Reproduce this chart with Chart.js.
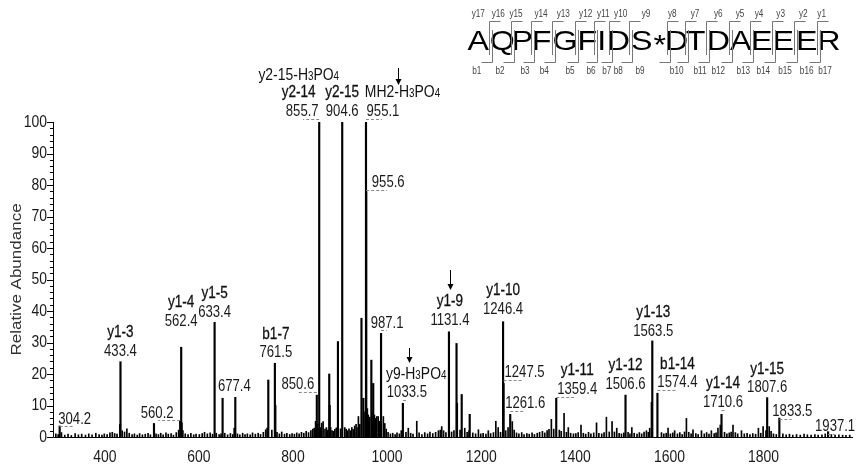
<!DOCTYPE html>
<html>
<head>
<meta charset="utf-8">
<script src="https://cdn.jsdelivr.net/npm/chart.js@4.4.1/dist/chart.umd.min.js"></script>
<style>
  html, body { margin: 0; background: #fff; }
  #wrap { position: relative; width: 858px; height: 473px; }
</style>
</head>
<body>
<div id="wrap"><canvas id="spectrum"></canvas></div>
<script>
// ---- spectrum data (m/z, relative abundance %) ----
const peakMz = [304.2, 432.5, 433.4, 504.6, 560.2, 562.4, 563.4, 633.4, 650.4, 677.4,
  747.5, 761.5, 762.5, 850.6, 855.7, 877.0, 878.0, 895.5, 904.6, 945.5,
  949.5, 955.1, 955.6, 966.5, 970.5, 987.1, 1033.5, 1131.4, 1147.5, 1148.5,
  1158.5, 1175.5, 1246.4, 1247.5, 1261.6, 1359.4, 1506.6, 1562.3, 1563.5, 1574.4,
  1710.6, 1807.6, 1833.5, 1937.1];
const peakAbund = [3.5, 4.0, 23.9, 4.3, 5.0, 28.5, 4.5, 36.4, 12.3, 12.6,
  18.1, 23.4, 10.0, 13.3, 100, 20.0, 10.0, 30.3, 100, 37.7,
  12.3, 100, 77.9, 24.4, 17.0, 32.9, 10.7, 33.4, 29.7, 10.7,
  13.5, 7.2, 36.6, 17.0, 7.2, 12.3, 13.3, 11.0, 30.5, 13.9,
  7.2, 12.5, 6.0, 1.7];

// small baseline peaks
const noiseMz = [
  296, 301, 308, 315, 322, 329, 337, 344, 351, 359, 366, 373, 381, 388, 394, 399,
  405, 411, 416, 421, 426, 437, 442, 447, 452, 458, 463, 469, 474, 480, 486, 492, 497,
  509, 514, 519, 524, 530, 535, 541, 546, 552, 557, 566, 571, 577, 583, 589, 594,
  601, 607, 612, 618, 624, 629, 637, 643, 647, 655, 661, 667, 672, 675, 682, 687, 693, 698,
  703, 709, 714, 720, 726, 731, 737, 742, 745, 755, 766, 771, 776, 782, 787, 793, 798,
  803, 808, 813, 818, 823, 828, 833, 838, 842, 845, 848, 853, 858, 861, 864, 868, 871, 874, 880, 883, 886, 889, 892, 901, 910, 913, 916,
  919, 922, 925, 928, 931, 934, 936, 939, 942, 953, 958, 960, 963, 969, 973, 975, 978, 981, 984, 986, 992, 995, 998,
  1002, 1007, 1012, 1017, 1021, 1026, 1030, 1040, 1045, 1050, 1055, 1063, 1068, 1074, 1080, 1086, 1091, 1097,
  1103, 1109, 1113, 1116, 1120, 1125, 1137, 1142, 1155, 1165, 1170, 1174, 1182, 1188, 1194, 1199,
  1204, 1210, 1215, 1220, 1226, 1231, 1236, 1241, 1252, 1257, 1266, 1270, 1275, 1280, 1286, 1291, 1297,
  1302, 1308, 1313, 1319, 1324, 1330, 1335, 1340, 1344, 1349, 1354, 1366, 1370, 1376, 1381, 1385, 1390, 1396,
  1401, 1406, 1412, 1417, 1422, 1428, 1433, 1439, 1445, 1450, 1456, 1461, 1466, 1472, 1478, 1483, 1488, 1493, 1498,
  1503, 1512, 1516, 1520, 1525, 1531, 1536, 1541, 1546, 1551, 1555, 1558, 1583, 1588, 1593, 1597, 1602,
  1607, 1611, 1617, 1622, 1627, 1632, 1636, 1641, 1646, 1650, 1656, 1661, 1668, 1674, 1679, 1684, 1689, 1695, 1699,
  1703, 1708, 1717, 1722, 1727, 1731, 1735, 1740, 1745, 1753, 1759, 1765, 1771, 1777, 1783, 1789, 1794, 1799,
  1805, 1812, 1816, 1821, 1827, 1841, 1848, 1855, 1862, 1870, 1878, 1886, 1893, 1901, 1909, 1916, 1924, 1931, 1944, 1952, 1960, 1968, 1975, 1983];
const noiseAbund = [
  1.0, 0.8, 1.4, 0.6, 0.9, 0.5, 1.1, 0.7, 0.9, 0.6, 1.0, 0.7, 1.2, 0.8, 0.6, 1.0,
  0.8, 1.3, 1.5, 1.1, 0.9, 2.0, 1.6, 2.6, 1.2, 0.8, 1.0, 0.6, 1.1, 0.7, 0.9, 1.2, 0.7,
  1.0, 0.8, 1.2, 0.7, 1.3, 0.9, 1.1, 0.6, 1.4, 2.2, 2.0, 1.0, 0.8, 1.2, 0.7, 0.9,
  0.8, 1.1, 1.5, 1.0, 1.3, 0.9, 1.2, 0.8, 1.0, 1.2, 0.7, 1.1, 0.8, 2.8, 1.0, 0.7, 1.2, 0.8,
  1.0, 0.7, 1.3, 0.9, 1.2, 0.8, 1.5, 2.3, 2.8, 2.2, 1.5, 1.0, 1.6, 0.9, 1.2, 0.8, 1.1,
  0.9, 1.3, 1.0, 1.5, 1.2, 1.8, 1.4, 2.0, 2.5, 2.8, 5.0, 4.0, 3.0, 4.4, 4.9, 2.5, 3.0, 2.2, 3.0, 2.0, 1.8, 2.4, 2.9, 2.6, 3.0, 2.5, 2.0,
  2.6, 2.0, 3.0, 2.4, 3.5, 4.0, 3.0, 6.5, 4.0, 8.0, 9.0, 7.0, 6.3, 8.0, 7.0, 5.9, 6.5, 6.5, 5.0, 4.0, 6.5, 4.3, 2.5,
  1.5, 1.0, 1.2, 0.8, 1.3, 1.0, 2.0, 1.5, 2.8, 1.2, 0.9, 5.0, 1.3, 0.8, 1.4, 1.0, 1.6, 1.1,
  1.5, 2.0, 2.2, 3.3, 2.0, 1.4, 1.6, 2.0, 2.2, 2.8, 1.5, 2.0, 1.3, 1.0, 2.3, 1.0,
  1.2, 0.9, 2.0, 1.1, 1.4, 5.0, 3.0, 1.5, 2.0, 3.0, 4.9, 2.2, 1.3, 1.0, 1.4, 0.8, 1.1,
  0.9, 1.3, 0.8, 1.2, 1.5, 1.8, 1.3, 2.0, 2.4, 5.6, 2.5, 2.2, 1.8, 7.5, 1.5, 3.0, 1.2, 1.0,
  1.1, 1.4, 3.8, 1.2, 0.9, 1.5, 1.0, 1.3, 4.5, 1.2, 1.0, 1.4, 6.3, 1.6, 4.9, 1.6, 2.8, 1.2, 1.0,
  1.3, 1.5, 1.0, 3.0, 1.2, 0.9, 1.4, 1.0, 1.6, 2.0, 1.5, 2.8, 1.4, 1.0, 1.2, 2.8, 1.0,
  1.3, 2.0, 1.0, 1.4, 0.8, 1.6, 5.9, 1.5, 1.0, 2.3, 1.1, 0.8, 2.0, 1.0, 1.4, 0.9, 2.0, 1.1, 1.3,
  2.8, 3.8, 1.5, 1.0, 1.3, 1.6, 3.8, 1.4, 1.0, 2.0, 1.0, 1.2, 0.8, 1.1, 0.9, 2.8, 1.2, 3.3,
  2.0, 3.3, 1.8, 1.0, 0.8, 1.0, 0.7, 0.9, 0.6, 0.8, 0.6, 0.9, 0.7, 0.6, 0.8, 0.6, 0.7, 1.0, 0.8, 0.6, 0.7, 0.6, 0.5, 0.6];

const xTickLabels = [400, 600, 800, 1000, 1200, 1400, 1600, 1800];
const yTickLabels = [0, 10, 20, 30, 40, 50, 60, 70, 80, 90, 100];

// annotated peaks; {n} = small subscript-like digit
const labelMz = [304.2, 433.4, 560.2, 562.4, 633.4, 677.4, 761.5, 850.6, 855.7, 904.6,
  955.1, 955.6, 987.1, 1033.5, 1131.4, 1246.4, 1247.5, 1261.6, 1359.4, 1506.6,
  1563.5, 1574.4, 1710.6, 1807.6, 1833.5, 1937.1];
const labelIon = ['', 'y1-3', '', 'y1-4', 'y1-5', '', 'b1-7', '', 'y2-14', 'y2-15',
  'MH2-H{3}PO{4}', '', '', 'y9-H{3}PO{4}', 'y1-9', 'y1-10', '', '', 'y1-11', 'y1-12',
  'y1-13', 'b1-14', 'y1-14', 'y1-15', '', ''];
const extraIon = { 855.7: 'y2-15-H{3}PO{4}' };
const arrowMz = [955.1, 1033.5, 1131.4];

const sequence = ['A', 'Q', 'P', 'F', 'G', 'F', 'I', 'D', 'S', '*', 'D', 'T', 'D', 'A', 'E', 'E', 'E', 'R'];
const yIons = ['y17', 'y16', 'y15', 'y14', 'y13', 'y12', 'y11', 'y10', 'y9', 'y8', 'y7', 'y6', 'y5', 'y4', 'y3', 'y2', 'y1'];
const bIons = ['b1', 'b2', 'b3', 'b4', 'b5', 'b6', 'b7', 'b8', 'b9', 'b10', 'b11', 'b12', 'b13', 'b14', 'b15', 'b16', 'b17'];

// ---- layout (pixels) ----
const labelDx = [15, 0, -23, 0, 0, -1, 1, -19, -17, 0, 17, 22, 6, 4, 1, 0, 21, 15, 21, 0, 1, 20, 1.5, 0, 13, 7];
const labelDy = [-8, -11.7, -9.5, -27.3, -11.6, -12.3, -11.6, -11.7, -12, -12, -12, -10, -11.6, -11.6, -12.4, -13.4, -11.8, -11.7, -10, -11.7, -11, -11.6, -13.3, -11, -8, -6.6];
const labelDash = [1, 0, 1, 0, 0, 0, 0, 1, 1, 0, 1, 1, 1, 1, 0, 0, 1, 1, 1, 0, 0, 1, 1, 0, 1, 1];
const ionDx = { 855.7: -3.5, 955.1: 19.5, 1033.5: 9.3 };
const arrowGeom = { 955.1: [32, -54, -37], 1033.5: [6.4, -55.3, -40.3], 1131.4: [1, -61.7, -41.7] };
const seqX = [478.3, 502.3, 522.3, 541.7, 565, 587.3, 601.7, 618.3, 641.7, 659.7, 676.7, 695.7, 718.3, 740.7, 761.7, 783.3, 806.7, 829];
const yIonX = [478.3, 498.3, 516, 541, 563.3, 585.7, 603.3, 620.7, 646, 672.3, 695, 718.3, 740, 759, 780.7, 803.3, 821.7];
const bIonX = [476.7, 500, 525, 544.3, 570, 591, 606.7, 618.3, 640, 676.7, 700, 718.3, 743.3, 763.3, 785, 806.7, 825];

const FAM = '"Liberation Sans", Arial, sans-serif';
const SQ = 0.82; // figure text is horizontally condensed

function squeezed(ctx, s, x, y, font, align, color) {
  ctx.save();
  ctx.font = font;
  ctx.fillStyle = color;
  ctx.textAlign = align;
  ctx.textBaseline = 'middle';
  ctx.translate(x, y);
  ctx.scale(SQ, 1);
  ctx.fillText(s, 0, 0);
  ctx.restore();
}

// heavy = stroke the glyphs lightly for the semi-bold ion names
function richText(ctx, spec, cx, cy, size, color, heavy) {
  const segs = [];
  spec.split(/(\{[^}]*\})/).forEach(p => {
    if (!p) return;
    if (p[0] === '{') segs.push({ t: p.slice(1, -1), small: true });
    else segs.push({ t: p, small: false });
  });
  const big = size + 'px ' + FAM;
  const small = Math.round(size * 0.68) + 'px ' + FAM;
  ctx.save();
  ctx.translate(cx, cy);
  ctx.scale(SQ, 1);
  let w = 0;
  segs.forEach(s => { ctx.font = s.small ? small : big; s.w = ctx.measureText(s.t).width; w += s.w; });
  let x = -w / 2;
  ctx.textAlign = 'left';
  ctx.textBaseline = 'alphabetic';
  ctx.fillStyle = color;
  ctx.strokeStyle = color;
  ctx.lineWidth = heavy || 0;
  segs.forEach(s => {
    ctx.font = s.small ? small : big;
    ctx.fillText(s.t, x, size * 0.36);
    if (heavy) ctx.strokeText(s.t, x, size * 0.36);
    x += s.w;
  });
  ctx.restore();
}

function abundOf(mz) {
  const i = peakMz.indexOf(mz);
  return i >= 0 ? peakAbund[i] : 0;
}

const spectrumDecor = {
  id: 'spectrumDecor',
  afterDraw(chart) {
    const { ctx, chartArea: area } = chart;
    const xs = chart.scales.x, ys = chart.scales.y;
    ctx.save();

    // axis lines
    ctx.strokeStyle = '#000';
    ctx.lineWidth = 1;
    ctx.beginPath();
    ctx.moveTo(area.left + 0.5, area.top);
    ctx.lineTo(area.left + 0.5, area.bottom + 0.5);
    ctx.lineTo(area.right, area.bottom + 0.5);
    ctx.stroke();

    // x ticks
    ctx.beginPath();
    xs.ticks.forEach(t => {
      if (t.value % 20 !== 0) return;
      const px = Math.round(xs.getPixelForValue(t.value)) + 0.5;
      const len = t.value % 100 === 0 ? 6 : 3.5;
      ctx.moveTo(px, area.bottom - 1);
      ctx.lineTo(px, area.bottom + len);
    });
    ys.ticks.forEach(t => {
      const py = Math.round(ys.getPixelForValue(t.value)) + 0.5;
      const len = t.value % 10 === 0 ? 6 : 3;
      ctx.moveTo(area.left - len, py);
      ctx.lineTo(area.left, py);
    });
    ctx.stroke();

    xTickLabels.forEach(v => {
      squeezed(ctx, String(v), xs.getPixelForValue(v), area.bottom + 20, '17px ' + FAM, 'center', '#1a1a1a');
    });
    yTickLabels.forEach(v => {
      squeezed(ctx, String(v), area.left - 6, ys.getPixelForValue(v), '17px ' + FAM, 'right', '#1a1a1a');
    });

    // y axis title
    ctx.save();
    ctx.translate(17, (area.top + area.bottom) / 2);
    ctx.rotate(-Math.PI / 2);
    ctx.scale(1, SQ);
    ctx.font = '17px ' + FAM;
    ctx.fillStyle = '#333';
    ctx.textAlign = 'center';
    ctx.textBaseline = 'middle';
    ctx.fillText('Relative Abundance', 0, 0);
    ctx.restore();

    // peak annotations
    labelMz.forEach((mz, i) => {
      const px = xs.getPixelForValue(mz);
      const py = ys.getPixelForValue(abundOf(mz));
      const cx = px + labelDx[i];
      const cy = py + labelDy[i];
      richText(ctx, mz.toFixed(1), cx, cy, 16, '#1a1a1a', 0);
      if (labelDash[i]) {
        let d = labelDx[i] * 0.95;
        if (Math.abs(d) < 5) d = 5;
        ctx.save();
        ctx.strokeStyle = '#8a8a8a';
        ctx.lineWidth = 1;
        ctx.setLineDash([3, 2]);
        ctx.beginPath();
        ctx.moveTo(px, Math.round(cy + 8.5) + 0.5);
        ctx.lineTo(px + d, Math.round(cy + 8.5) + 0.5);
        ctx.stroke();
        ctx.restore();
      }
      const ion = labelIon[i];
      const ix = cx + (ionDx[mz] || 0);
      if (ion) {
        const sub = ion.indexOf('{') >= 0;
        richText(ctx, ion, ix, cy - 19, sub ? 17 : 16.5, '#111', sub ? 0 : 0.3);
      }
      if (extraIon[mz]) {
        richText(ctx, extraIon[mz], ix, cy - 36, 17, '#111', 0);
      }
    });

    // arrows marking the phospho-loss ions
    arrowMz.forEach(mz => {
      const g = arrowGeom[mz];
      const ax = Math.round(xs.getPixelForValue(mz) + g[0]) + 0.5;
      const top = ys.getPixelForValue(abundOf(mz));
      const y1 = top + g[1], y2 = top + g[2];
      ctx.strokeStyle = '#000';
      ctx.fillStyle = '#000';
      ctx.lineWidth = 1;
      ctx.beginPath();
      ctx.moveTo(ax, y1);
      ctx.lineTo(ax, y2 - 4);
      ctx.stroke();
      ctx.beginPath();
      ctx.moveTo(ax - 3, y2 - 6);
      ctx.lineTo(ax + 3, y2 - 6);
      ctx.lineTo(ax, y2);
      ctx.closePath();
      ctx.fill();
    });

    // peptide sequence with fragment brackets
    sequence.forEach((ch, i) => {
      ctx.save();
      ctx.translate(seqX[i], 50);
      ctx.scale(1.15, 1);
      ctx.font = '28px ' + FAM;
      ctx.fillStyle = '#000';
      ctx.textAlign = 'center';
      ctx.textBaseline = 'alphabetic';
      ctx.fillText(ch, 0, ch === '*' ? 4 : 0);
      ctx.restore();
    });
    yIons.forEach((s, i) => squeezed(ctx, s, yIonX[i], 14, '10px ' + FAM, 'center', '#444'));
    bIons.forEach((s, i) => squeezed(ctx, s, bIonX[i], 71, '10px ' + FAM, 'center', '#444'));

    ctx.strokeStyle = '#777';
    ctx.lineWidth = 1;
    ctx.beginPath();
    for (let i = 0; i < sequence.length - 1; i++) {
      if (sequence[i + 1] === '*') continue;
      const g = Math.round((seqX[i] + seqX[i + 1]) / 2) + 0.5;
      ctx.moveTo(g + 10, 21.5);
      ctx.lineTo(g - 1, 21.5);
      ctx.lineTo(g - 1, 55);
      ctx.moveTo(g + 2, 30);
      ctx.lineTo(g + 2, 62.5);
      ctx.lineTo(g - 9, 62.5);
    }
    ctx.stroke();

    ctx.restore();
  }
};

const noisePoints = noiseMz.map((m, i) => ({ x: m, y: noiseAbund[i] })).filter(p => p.y !== undefined);
const peakPoints = peakMz.map((m, i) => ({ x: m, y: peakAbund[i] }));

new Chart(document.getElementById('spectrum').getContext('2d'), {
  type: 'bar',
  data: {
    datasets: [
      { label: 'baseline', data: noisePoints, backgroundColor: '#000', barThickness: 1, grouped: false },
      { label: 'peaks', data: peakPoints, backgroundColor: '#000', barThickness: 1.5, grouped: false }
    ]
  },
  options: {
    responsive: true,
    maintainAspectRatio: false,
    animation: false,
    layout: { padding: { left: 53, right: 5, top: 122, bottom: 36 } },
    plugins: { legend: { display: false }, tooltip: { enabled: false } },
    scales: {
      x: {
        type: 'linear', min: 290, max: 1990, offset: false,
        grid: { display: false, drawTicks: false }, border: { display: false },
        ticks: { display: false, stepSize: 20, autoSkip: false }
      },
      y: {
        type: 'linear', min: 0, max: 100,
        grid: { display: false, drawTicks: false }, border: { display: false },
        ticks: { display: false, stepSize: 2, autoSkip: false }
      }
    }
  },
  plugins: [spectrumDecor]
});
</script>
</body>
</html>
